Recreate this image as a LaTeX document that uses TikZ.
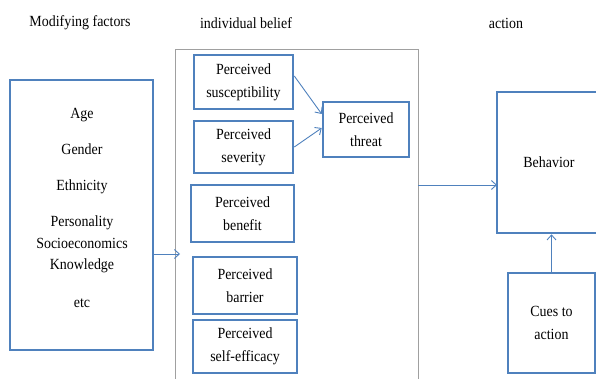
\documentclass[tikz,border=0pt]{standalone}
\usepackage{fontspec}
\setmainfont[FakeStretch=0.9]{Liberation Serif}
\usetikzlibrary{arrows.meta}
\definecolor{boxblue}{HTML}{4F81BD}
\definecolor{framegray}{HTML}{A0A0A0}
\begin{document}
\begin{tikzpicture}[x=1pt,y=-1pt,
  font=\fontsize{15.5}{23}\selectfont,
  bluebox/.style={draw=boxblue,line width=2.6pt,align=center,inner sep=0pt},
  arr/.style={draw=boxblue,line width=0.9pt,-{Straight Barb[length=5pt,width=9pt]}},
  hdr/.style={inner sep=0pt}]
\useasboundingbox (0,0) rectangle (596,379);
\clip (0,0) rectangle (596,379);
% headers
\node[hdr] (h1) at (80,23) {Modifying factors};
\node[hdr] (h2) at (246,23) {individual belief};
\node[hdr] (h3) at (506,23) {action};
% container
\node[draw=framegray,line width=0.8pt,minimum width=243pt,minimum height=341pt,inner sep=0pt] (belief) at (296.5,219.5) {};
% modifying factors box
\node[bluebox,minimum width=143pt,minimum height=270pt] (mod) at (81.5,215) {};
\node[align=center,inner sep=0pt] (modtext) at (82,208) {Age\\[13pt]Gender\\[13pt]Ethnicity\\[13pt]Personality\\[-1pt]Socioeconomics\\[-2pt]Knowledge\\[15pt]etc};
% belief boxes
\node[bluebox,minimum width=99pt,minimum height=54pt] (sus) at (243.5,82) {Perceived\\susceptibility};
\node[bluebox,minimum width=99pt,minimum height=52pt] (sev) at (243.5,147) {Perceived\\severity};
\node[bluebox,minimum width=86pt,minimum height=55pt] (thr) at (366,129.5) {Perceived\\threat};
\node[bluebox,minimum width=103pt,minimum height=57pt] (ben) at (242.5,213.5) {Perceived\\benefit};
\node[bluebox,minimum width=104pt,minimum height=57pt] (bar) at (245,285.5) {Perceived\\barrier};
\node[bluebox,minimum width=104pt,minimum height=53pt] (eff) at (245,346.5) {Perceived\\self-efficacy};
% action boxes
\node[bluebox,minimum width=104pt,minimum height=141pt] (beh) at (549,162.5) {Behavior};
\node[bluebox,minimum width=87pt,minimum height=100pt] (cue) at (551.5,323) {Cues to\\action};
% arrows
\coordinate (a1) at (180,254);
\draw[arr] (mod.east |- a1) -- (a1);
\draw[arr] ([yshift=6pt]sus.east) -- ([yshift=15.5pt]thr.west);
\draw[arr] (sev.east) -- ([yshift=1.5pt]thr.west);
\coordinate (b1) at (497,185);
\draw[arr] (belief.east |- b1) -- (b1);
\draw[arr] (cue.north) -- (cue.north |- beh.south);
\end{tikzpicture}
\end{document}
